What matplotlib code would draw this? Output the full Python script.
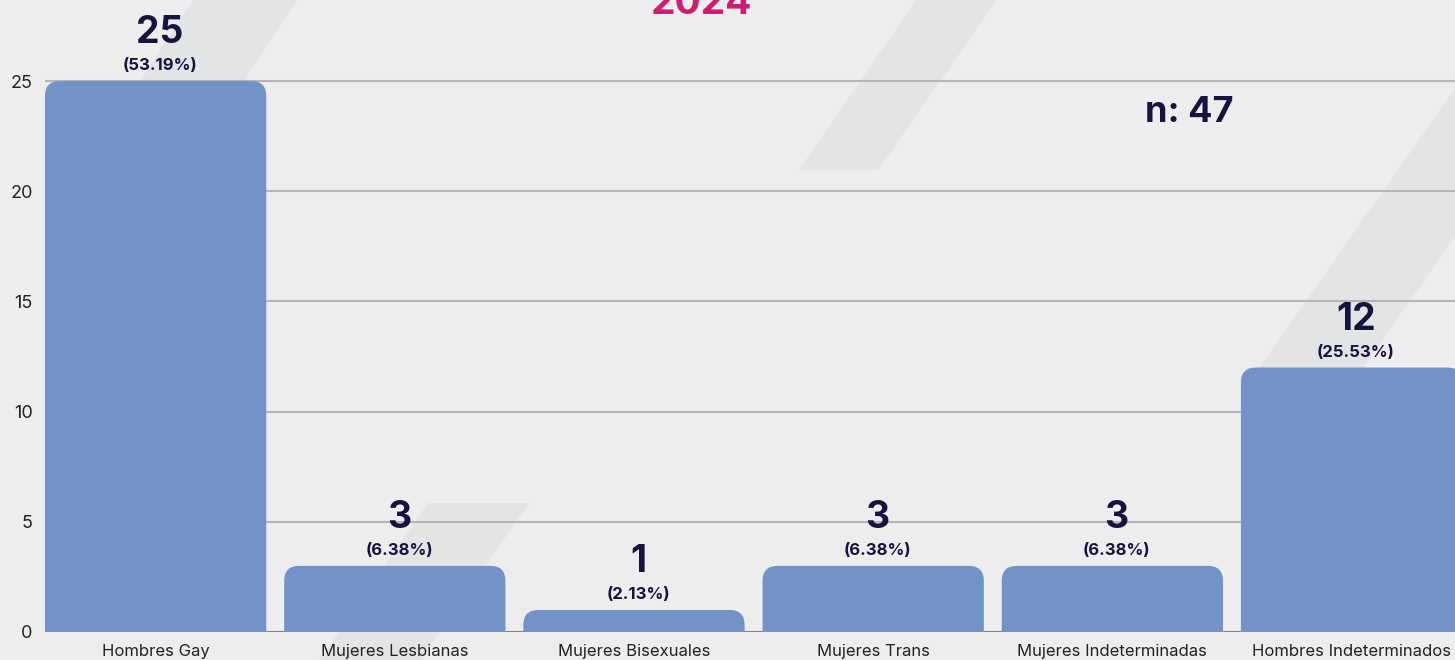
import matplotlib.pyplot as plt
from matplotlib.patches import FancyBboxPatch, Polygon
from matplotlib.transforms import Affine2D

categorias = ["Hombres Gay", "Mujeres Lesbianas", "Mujeres Bisexuales",
              "Mujeres Trans", "Mujeres Indeterminadas", "Hombres Indeterminados"]
valores = [25, 3, 1, 3, 3, 12]
yticks = [0, 5, 10, 15, 20, 25]
titulo = "2024"

total = sum(valores)
porcentajes = [v / total * 100 for v in valores]

W, H = 1455, 660
fondo = "#ededed"
franja = "#e3e4e6"
azul = "#7393c8"
oscuro = "#16143f"
fuente = "Inter"

fig = plt.figure(figsize=(W / 100, H / 100), dpi=100, facecolor=fondo)

# decorative diagonal stripes (pixel coords, origin top-left)
px = Affine2D().scale(1 / W, -1 / H).translate(0, 1) + fig.transFigure
franjas = [
    [(200, -10), (304, -10), (165, 200), (61, 200)],
    [(923, -10), (1004, -10), (878, 170), (799, 170)],
    [(1517, 0), (1620, 0), (1344, 395), (1240, 395)],
    [(428, 503), (529, 503), (417, 665), (316, 665)],
]
for pts in franjas:
    fig.patches.append(Polygon(pts, closed=True, transform=px,
                               facecolor=franja, edgecolor="none", zorder=-5))

# axes
px_unidad = 551 / 25
ax = fig.add_axes([45 / W, 28 / H, 1410 / W, 26 * px_unidad / H])
ax.set_facecolor("none")
ax.set_ylim(0, 26)
ax.set_xlim(-0.4625, 5.4325)

ancho = 0.925
barras = ax.bar(range(len(valores)), valores, width=ancho, color=azul)
radio = 15 / 239.2
aspecto = (1 / px_unidad) / (1 / 239.2)
for b in barras:
    x, w, h = b.get_x(), b.get_width(), b.get_height()
    b.remove()
    ax.add_patch(FancyBboxPatch((x, -2), w, h + 2,
                                boxstyle=f"round,pad=0,rounding_size={radio}",
                                mutation_aspect=aspecto, facecolor=azul,
                                edgecolor="none", zorder=3))

ax.set_yticks(yticks)
ax.yaxis.grid(True, color="#b5b5b5", linewidth=1.5, zorder=1)
ax.set_axisbelow(True)
ax.axhline(0, color="#7a7a7a", linewidth=1.2, zorder=2)
for s in ax.spines.values():
    s.set_visible(False)
ax.tick_params(axis="both", length=0, labelsize=12, labelcolor="#222222")
ax.tick_params(axis="y", pad=9, labelsize=13)
ax.tick_params(axis="x", pad=8.5)
ax.set_xticks(range(len(categorias)))
ax.set_xticklabels(categorias, fontfamily=fuente)
for t in ax.get_yticklabels():
    t.set_fontfamily(fuente)

for i, (v, p) in enumerate(zip(valores, porcentajes)):
    ax.annotate(f"{v}", (i, v), xytext=(3, 34.5), textcoords="offset points",
                ha="center", va="center", fontsize=27, fontweight="bold",
                color=oscuro, family=fuente, annotation_clip=False)
    ax.annotate(f"({p:.2f}%)", (i, v), xytext=(3, 11), textcoords="offset points",
                ha="center", va="center", fontsize=12, fontweight="bold",
                color=oscuro, family=fuente, annotation_clip=False)

fig.text(1189 / W, 1 - 112 / H, f"n: {total}", ha="center", va="center",
         fontsize=26, fontweight="bold", color=oscuro, family=fuente)
fig.text(702 / W, 1 - 14 / H, titulo, ha="center", va="baseline",
         fontsize=28, fontweight="bold", color="#cc1f74", family=fuente)

fig.savefig("out.png", dpi=100, facecolor=fondo)
